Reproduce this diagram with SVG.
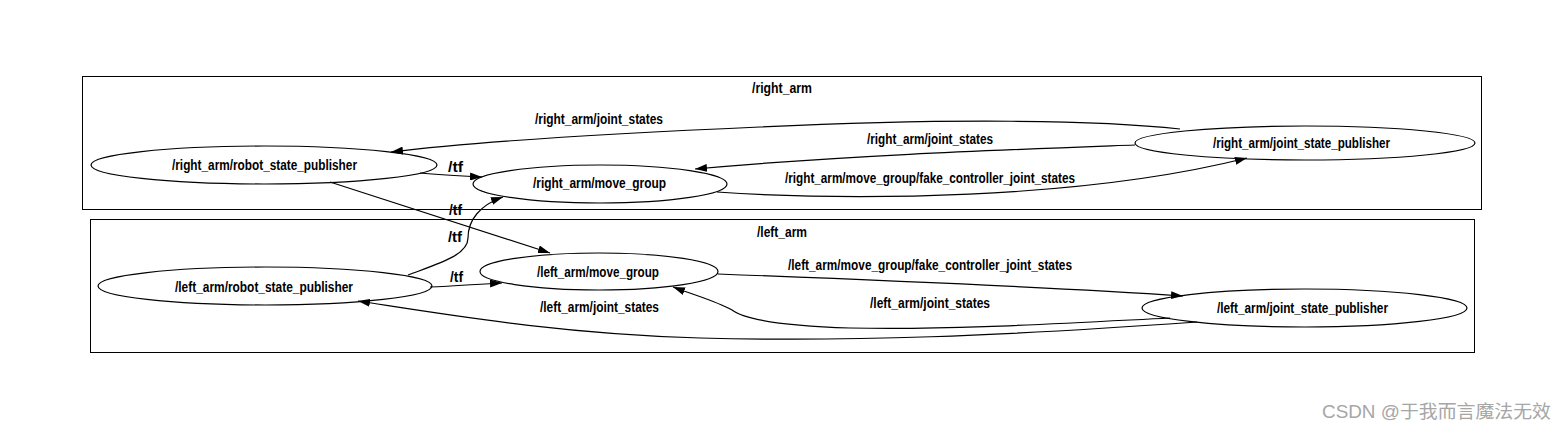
<svg xmlns="http://www.w3.org/2000/svg" width="1567" height="429" viewBox="0 0 1567 429">
<style>
.cl{fill:none;stroke:#000;stroke-width:1}
.nd{fill:none;stroke:#000;stroke-width:1.2}
.ed{fill:none;stroke:#000;stroke-width:1.2;marker-end:url(#arr)}
.t{font-family:"Liberation Sans",Arial,sans-serif;font-size:14px;font-weight:bold;fill:#000}
.wm{font-family:"Liberation Sans","Noto Sans CJK SC",sans-serif;font-size:18px;fill:#a6a6a6}
</style>
<defs>
<marker id="arr" markerWidth="12" markerHeight="8" refX="12" refY="4" orient="auto" markerUnits="userSpaceOnUse">
<path d="M0,0 L12,4 L0,8 z" fill="#000"/>
</marker>
</defs>
<rect width="1567" height="429" fill="#fff"/>
<g id="cluster_right_arm">
<rect class="cl" x="82.5" y="76.5" width="1399" height="133"/>
<text class="t" x="752" y="93" textLength="60" lengthAdjust="spacingAndGlyphs">/right_arm</text>
</g>
<g id="cluster_left_arm">
<rect class="cl" x="90.5" y="219.5" width="1384" height="133"/>
<text class="t" x="757" y="237" textLength="50" lengthAdjust="spacingAndGlyphs">/left_arm</text>
</g>
<g id="connectors">
<path class="ed" d="M1180,129 C1100,120 950,118 760,127 C620,133 480,141 391,152"/>
<text class="t" x="535" y="124" textLength="128" lengthAdjust="spacingAndGlyphs">/right_arm/joint_states</text>
<path class="ed" d="M1135,145 C1000,150 850,155 695,169"/>
<text class="t" x="867" y="144" textLength="126" lengthAdjust="spacingAndGlyphs">/right_arm/joint_states</text>
<path class="ed" d="M717,192 C850,201 1080,200 1247,158"/>
<text class="t" x="785" y="183" textLength="290" lengthAdjust="spacingAndGlyphs">/right_arm/move_group/fake_controller_joint_states</text>
<path class="ed" d="M420,173 C440,175 460,176 482,177"/>
<text class="t" x="448" y="172" textLength="15" lengthAdjust="spacingAndGlyphs">/tf</text>
<path class="ed" d="M330,182 L550,253"/>
<text class="t" x="449" y="215" textLength="13" lengthAdjust="spacingAndGlyphs">/tf</text>
<path class="ed" d="M408,275 C440,263 468,255 468,238 C468,220 480,205 503,197"/>
<text class="t" x="448" y="242" textLength="14" lengthAdjust="spacingAndGlyphs">/tf</text>
<path class="ed" d="M430,287 C455,286 480,284 502,283"/>
<text class="t" x="450" y="282" textLength="13" lengthAdjust="spacingAndGlyphs">/tf</text>
<path class="ed" d="M718,274 C850,279 1050,287 1183,296"/>
<text class="t" x="788" y="270" textLength="284" lengthAdjust="spacingAndGlyphs">/left_arm/move_group/fake_controller_joint_states</text>
<path class="ed" d="M1170,318 C1050,324 950,330 850,328 C790,326 745,320 732,310 C718,302 700,297 673,287"/>
<text class="t" x="870" y="308" textLength="120" lengthAdjust="spacingAndGlyphs">/left_arm/joint_states</text>
<path class="ed" d="M1197,322 C1000,336 850,342 700,338 C560,334 450,315 358,301"/>
<text class="t" x="540" y="312" textLength="119" lengthAdjust="spacingAndGlyphs">/left_arm/joint_states</text>
</g>
<g id="node_right_robot_state_publisher">
<ellipse class="nd" cx="264" cy="165" rx="173" ry="19"/>
<text class="t" x="172" y="170" textLength="185" lengthAdjust="spacingAndGlyphs">/right_arm/robot_state_publisher</text>
</g>
<g id="node_right_move_group">
<ellipse class="nd" cx="600" cy="184" rx="127" ry="19"/>
<text class="t" x="533" y="188" textLength="133" lengthAdjust="spacingAndGlyphs">/right_arm/move_group</text>
</g>
<g id="node_right_joint_state_publisher">
<ellipse class="nd" cx="1305" cy="143" rx="170" ry="17"/>
<text class="t" x="1213" y="148" textLength="177" lengthAdjust="spacingAndGlyphs">/right_arm/joint_state_publisher</text>
</g>
<g id="node_left_robot_state_publisher">
<ellipse class="nd" cx="265" cy="286" rx="167" ry="19"/>
<text class="t" x="175" y="292" textLength="178" lengthAdjust="spacingAndGlyphs">/left_arm/robot_state_publisher</text>
</g>
<g id="node_left_move_group">
<ellipse class="nd" cx="599" cy="271.5" rx="119" ry="18.5"/>
<text class="t" x="537" y="277" textLength="122" lengthAdjust="spacingAndGlyphs">/left_arm/move_group</text>
</g>
<g id="node_left_joint_state_publisher">
<ellipse class="nd" cx="1304.5" cy="308" rx="162.5" ry="19"/>
<text class="t" x="1217" y="313" textLength="171" lengthAdjust="spacingAndGlyphs">/left_arm/joint_state_publisher</text>
</g>
<text class="wm" x="1322" y="418" textLength="229" lengthAdjust="spacingAndGlyphs">CSDN @于我而言魔法无效</text>
</svg>
